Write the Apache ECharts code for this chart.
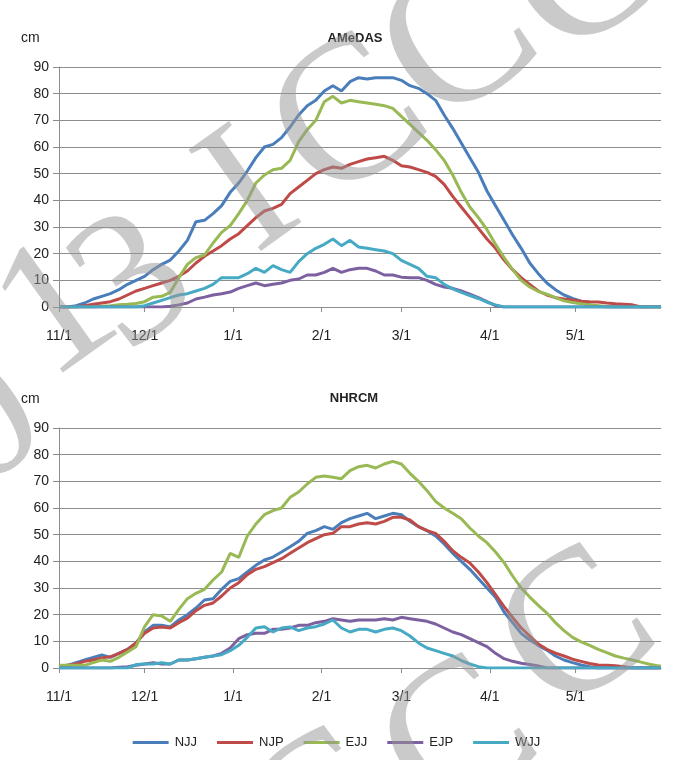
<!DOCTYPE html>
<html>
<head>
<meta charset="utf-8">
<script src="https://cdn.jsdelivr.net/npm/echarts@6/dist/echarts.min.js"></script>
<style>
html,body{margin:0;padding:0;background:#fff;}
#chart{width:673px;height:760px;}
</style>
</head>
<body>
<div id="chart"></div>
<script>
// x positions: days since 11/1 (sampled every 3 days, plus 5/31)
var days = [0,3,6,9,12,15,18,21,24,27,30,33,36,39,42,45,48,51,54,57,60,63,66,69,72,75,78,81,84,87,90,93,96,99,102,105,108,111,114,117,120,123,126,129,132,135,138,141,144,147,150,153,156,159,162,165,168,171,174,177,180,183,186,189,192,195,198,201,204,207,210,211];
var tickDays = [0,30,61,92,120,151,181];
var tickLabels = ['11/1','12/1','1/1','2/1','3/1','4/1','5/1'];
var seriesNames = ['NJJ','NJP','EJJ','EJP','WJJ'];
var panelTitles = ['AMeDAS','NHRCM'];

// AMeDAS (observed) snow depth, cm
var amedasNJJ = [0,0,0.5,1.5,3,4,5,6.5,8.5,10, 11.5,14,16,17.6,21,25,32,32.5,35,38, 43,46.5,51,56,60,61,63.5,67.5,72,75.5, 77.5,81,83,81,84.5,86,85.5,86,86,86, 85,83,82,80,77.5,72,67,61.5,56,50.5, 43.5,38,32.5,27,22,16.5,12.5,9,6.5,4.5, 3.2,2.2,0.8,0.3,0,0,0,0,0,0, 0,0];
var amedasNJP = [0,0,0,0.5,1,1.5,2,3,4.5,6, 7,8,9,10,11.5,13.5,16.5,19,21,23, 25.5,27.5,30.5,33.5,36,37,38.5,42.5,45,47.5, 50,51.5,52.5,52,53.5,54.5,55.5,56,56.5,55, 53,52.5,51.5,50.5,49,46,41.5,37.5,33.5,29.5, 25.5,22,17.6,14,11,8.5,6,4.5,3.5,3, 2.6,2.2,2,1.9,1.5,1.2,1,0.8,0,0, 0,0];
var amedasEJJ = [0,0,0,0,0,0.3,0.5,0.8,1,1.3, 2,3.7,4,5.5,11,16,18.5,19.5,24,28, 30.5,35,40,46.5,49.5,51.5,52,55,62,66.5, 70,77,79,76.5,77.5,77,76.5,76,75.5,74.5, 71.5,68.5,65.5,62.5,59,55,49.5,43,37.5,33.5, 29,23.5,18.5,14,10,7.5,5.8,4.8,3.5,2.3, 1.7,1.2,0.8,0.5,0.2,0,0,0,0,0, 0,0];
var amedasEJP = [0,0,0,0,0,0,0,0,0,0, 0,0,0,0.3,0.8,1.5,3,3.7,4.5,5, 5.6,7,8,9,8,8.5,9,10,10.5,12, 12,13,14.5,13,14,14.5,14.5,13.5,12,12, 11.2,11,11,10,8.5,7.5,7,6,4.8,3.5, 2,0.5,0,0,0,0,0,0,0,0, 0,0,0,0,0,0,0,0,0,0, 0,0];
var amedasWJJ = [0,0,0,0,0,0,0,0,0,0, 0.5,1.5,2.5,3.5,4.5,5,6,7,8.5,11, 11,11,12.5,14.5,13,15.5,14,13,17,20, 22,23.5,25.5,23,25,22.5,22,21.5,21,20, 17.5,16,14.5,11.5,11,8.5,6.8,5.5,4.3,3.2, 1.8,0.8,0,0,0,0,0,0,0,0, 0,0,0,0,0,0,0,0,0,0, 0,0];

// NHRCM (model) snow depth, cm
var nhrcmNJJ = [0.5,1,2,3,4,4.9,4,5.5,7,9.4, 13.5,16,16,15.4,18,20,22.5,25.5,26,29.5, 32.5,33.5,36,38.5,40.5,41.6,43.5,45.5,47.5,50.5, 51.5,53,52,54.5,56,57,58,56,57,58, 57.5,55,53,51.5,49.5,46.5,43,40,37,33.5, 30,26.5,21,17,13,10.5,8.5,6.7,4.5,3, 2,1.1,0.5,0,0,0,0,0,0,0, 0,0];
var nhrcmNJP = [0.5,1,1.5,2.5,3,3.8,4.2,5.5,7,9.4, 13,15,15.4,15,17,18.7,21.5,23.5,24.4,27, 30,32,35,37,38,39.5,41,43,45,47, 48.5,50,50.5,53,53,54,54.5,54,55,56.5, 56.5,55.5,53,51.5,50.5,47.5,44,41.5,39.4,36, 32,27.5,23,19,15,12,9,7,5.6,4.5, 3.3,2.5,1.7,1.1,1,0.8,0.5,0,0,0, 0,0];
var nhrcmEJJ = [1,1,1,1,2,3,2.5,4,6,8, 15.5,20,19.5,17.5,22,26,28,29.5,33,36, 43,41.5,49.5,54,57.5,59,60,64,66,69, 71.5,72,71.5,71,74,75.5,76,75,76.5,77.5, 76.5,73,70,66.5,62.5,60,58,56,52.5,49.5, 47,43.5,39.5,34.5,30,26.6,23.5,20.6,17,14, 11.5,9.8,8.5,7,5.8,4.5,3.7,3,2.2,1.4, 0.8,0.7];
var nhrcmEJP = [0,0,0,0,0,0,0,0.3,0.5,1, 1.5,2,1.5,1.5,3,3,3.5,4,4.5,5.5, 7.5,11,12.5,13,13,14.5,14.5,15,16,16, 17,17.5,18.5,18,17.5,18,18,18,18.5,18, 19,18.5,18,17.5,16.5,15,13.5,12.5,11,9.5, 8,5.5,3.5,2.5,1.8,1.3,0.8,0,0,0, 0,0,0,0,0,0,0,0,0,0, 0,0];
var nhrcmWJJ = [0,0,0,0,0,0,0,0,0,1.3, 1.5,1.5,2,1.5,3,3,3.5,4,4.5,5, 6.5,8.5,11.5,15,15.5,13.5,15,15.4,14,15, 15.5,16.5,18,15,13.5,14.5,14.5,13.5,14.5,15, 14,12,9.4,7.5,6.5,5.5,4.5,2.8,1.5,0.5, 0,0,0,0,0,0,0,0,0,0, 0,0,0,0,0,0,0,0,0,0, 0,0];

var colors = ['#4a7ebb','#be4b48','#98b954','#7d60a0','#46aac5'];
var panels = [
  [amedasNJJ, amedasNJP, amedasEJJ, amedasEJP, amedasWJJ],
  [nhrcmNJJ, nhrcmNJP, nhrcmEJJ, nhrcmEJP, nhrcmWJJ]
];

var FONT = '"Liberation Sans", Arial, sans-serif';
var gridTops = [67, 428];
var grids = [], xAxes = [], yAxes = [], series = [];
gridTops.forEach(function (top, gi) {
  grids.push({left: 59, right: 12, top: top, height: 240, containLabel: false});
  xAxes.push({
    type: 'value', gridIndex: gi, min: 0, max: 211,
    axisLine: {show: true, onZero: false, lineStyle: {color: '#8c8c8c', width: 1}},
    axisTick: {show: true, customValues: tickDays, length: 5, lineStyle: {color: '#8c8c8c'}},
    axisLabel: {
      customValues: tickDays, margin: 22, fontSize: 14, color: '#222', fontFamily: FONT,
      formatter: function (v) { var i = tickDays.indexOf(Math.round(v)); return i >= 0 ? tickLabels[i] : ''; }
    },
    splitLine: {show: false}
  });
  yAxes.push({
    type: 'value', gridIndex: gi, min: 0, max: 90, interval: 10,
    axisLine: {show: true, lineStyle: {color: '#8c8c8c', width: 1}},
    axisTick: {show: true, length: 6, lineStyle: {color: '#8c8c8c'}},
    axisLabel: {margin: 10, fontSize: 14, color: '#222', fontFamily: FONT},
    splitLine: {show: true, lineStyle: {color: '#8c8c8c', width: 1}}
  });
  panels[gi].forEach(function (vals, si) {
    series.push({
      name: seriesNames[si], type: 'line', xAxisIndex: gi, yAxisIndex: gi,
      data: days.map(function (d, k) { return [d, vals[k]]; }),
      symbol: 'none', smooth: false,
      lineStyle: {color: colors[si], width: 3},
      itemStyle: {color: colors[si]},
      z: 2 + si
    });
  });
});

// watermark letters (decorative overlay in the reference)
var wm = function (t, x, y, size, rot) {
  return {
    type: 'text', x: x + 14, y: y + 24, rotation: rot, z: 100, silent: true,
    style: {text: t, font: size + 'px "Liberation Serif", "DejaVu Serif", serif',
      fill: 'rgba(150,150,150,0.5)', textAlign: 'center', textVerticalAlign: 'middle'}
  };
};

var chart = echarts.init(document.getElementById('chart'), null, {renderer: 'canvas'});
chart.setOption({
  animation: false,
  backgroundColor: '#fff',
  color: colors,
  title: [
    {text: panelTitles[0], left: 350, top: 27, textAlign: 'center', textStyle: {fontSize: 13, fontWeight: 'bold', color: '#222', fontFamily: FONT}},
    {text: panelTitles[1], left: 349, top: 387, textAlign: 'center', textStyle: {fontSize: 13, fontWeight: 'bold', color: '#222', fontFamily: FONT}},
    {text: 'cm', left: 16, top: 26, textStyle: {fontSize: 14, fontWeight: 'normal', color: '#222', fontFamily: FONT}},
    {text: 'cm', left: 16, top: 387, textStyle: {fontSize: 14, fontWeight: 'normal', color: '#222', fontFamily: FONT}}
  ],
  legend: {
    data: seriesNames, bottom: 6, left: 'center',
    icon: 'rect', itemWidth: 36, itemHeight: 3, itemGap: 20,
    textStyle: {fontSize: 13, color: '#222', fontFamily: FONT, padding: [0, 0, 0, 1]}
  },
  grid: grids,
  xAxis: xAxes,
  yAxis: yAxes,
  series: series,
  graphic: [
    wm('0', -28, 400, 190, 0.62),
    wm('1', 45, 290, 190, 0.62),
    wm('3', 122, 262, 190, 0.62),
    wm('I', 238, 172, 190, 0.62),
    wm('C', 338, 100, 205, 0.62),
    wm('C', 448, 22, 205, 0.62),
    wm('C', 572, -45, 205, 0.62),
    wm('C', 310, 795, 205, 0.62),
    wm('C', 448, 722, 205, 0.62),
    wm('C', 566, 612, 205, 0.62)
  ]
});
</script>
</body>
</html>
